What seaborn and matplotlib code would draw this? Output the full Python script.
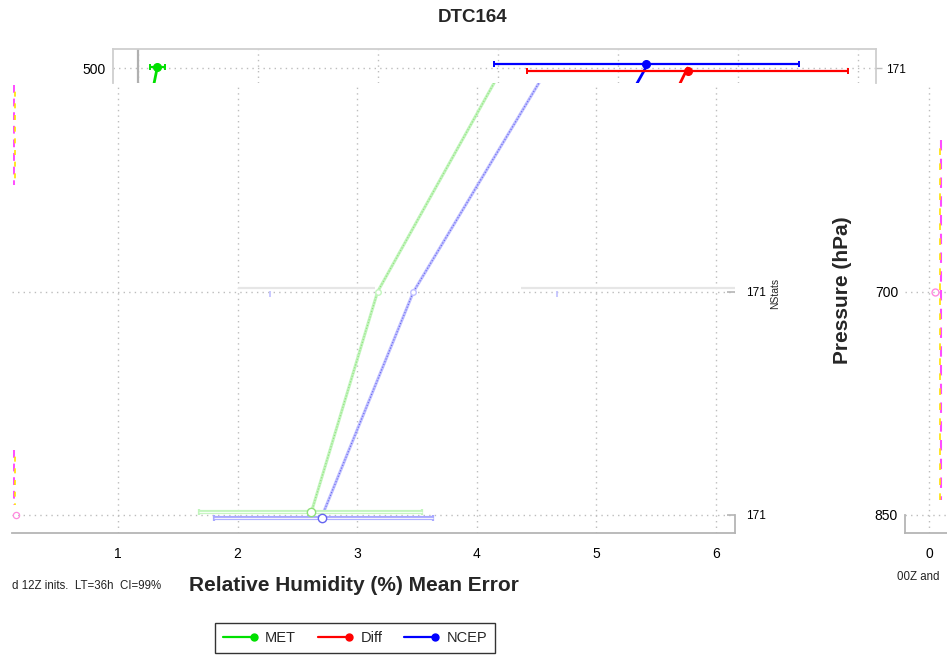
import numpy as np
import pandas as pd
import matplotlib
matplotlib.use("Agg")
import matplotlib.pyplot as plt
import seaborn as sns
from matplotlib.lines import Line2D
from matplotlib.legend_handler import HandlerLine2D

# ---------------------------------------------------------------- data
level_labels = ["850", "700", "500"]          # pressure levels, bottom to top
level_idx = [0, 1, 2]
nstats_labels = ["171", "171", "171"]
x_ticks = [1, 2, 3, 4, 5, 6]
x_tick_labels = ["1", "2", "3", "4", "5", "6"]

# profile of mean error per level
met_mean = [2.61, 3.17, 4.21]
ncep_mean = [2.71, 3.47, 4.59]

# confidence intervals drawn on the profile panel
met_ci_850 = [1.68, 3.54]
ncep_ci_850 = [1.80, 3.63]
ncep_ci_700 = [2.27, 4.67]

# 500 hPa strip: means, intervals and the start of the line toward 700 hPa
strip_models = ["MET", "Diff", "NCEP"]
strip_mean_500 = [1.16, 5.58, 5.23]
strip_lo_500 = [1.10, 4.24, 3.97]
strip_hi_500 = [1.225, 6.92, 6.51]
strip_mean_700 = [0.78, 4.66, 4.19]

# faint reference segments along 700 hPa
ref_seg_start = [2.00, 4.37]
ref_seg_end = [3.15, 6.16]

# edge traces of neighbouring panels
left_trace_x = [0.128, 0.128]
left_trace_top = [1.93, 0.29]
left_trace_bot = [1.48, 0.045]
right_trace_x = [0.10]
right_trace_top = [1.68]
right_trace_bot = [0.067]

colors = {"MET": "#00e000", "Diff": "#ff0000", "NCEP": "#0000ff"}
pale = {"MET": "#c2f5bd", "NCEP": "#c0c0ff"}
inner = {"MET": "#8fe07a", "NCEP": "#6464f0"}

# ---------------------------------------------------------------- style
sns.set_theme(style="white")
plt.rcParams["font.family"] = ["Liberation Sans", "DejaVu Sans"]
plt.rcParams["axes.facecolor"] = "none"

W, H = 947, 656


def rect(l, t, r, b):
    return [l / W, 1 - b / H, (r - l) / W, (b - t) / H]


fig = plt.figure(figsize=(W / 100, H / 100), dpi=100)
fig.patch.set_facecolor("white")

grid_kw = dict(ls=(0, (1, 3)), color="#bdbdbd", lw=1.0)
spine_c = "#b5b5b5"
YLIM = (-0.081, 1.937)

# ---------------------------------------------------------------- main profile panel
ax = fig.add_axes(rect(12, 83, 735, 533))

prof = pd.DataFrame({
    "value": met_mean + ncep_mean,
    "level": level_idx + level_idx,
    "model": ["MET"] * 3 + ["NCEP"] * 3,
})
sns.lineplot(data=prof, x="value", y="level", hue="model", palette=pale,
             sort=False, estimator=None, legend=False, lw=2.2, ax=ax, zorder=2)
sns.lineplot(data=prof, x="value", y="level", hue="model", palette=inner,
             sort=False, estimator=None, legend=False, lw=0.8, ls=":", ax=ax,
             zorder=3)

ax.set_xlim(0.114, 6.159)
ax.set_ylim(*YLIM)
ax.set_xticks(x_ticks)
ax.set_xticklabels(x_tick_labels)
ax.set_yticks(level_idx[:2])
ax.set_ylabel("")
ax.tick_params(axis="x", length=0, pad=10, labelsize=10, colors="black")
ax.grid(True, **grid_kw)
for s in ["left", "top", "right"]:
    ax.spines[s].set_visible(False)
ax.spines["bottom"].set_color(spine_c)
ax.spines["bottom"].set_linewidth(1.3)

# intervals at 850 hPa (dodged), drawn as hollow bars
for model, mean, ci, dy in [("MET", met_mean[0], met_ci_850, 0.0135),
                            ("NCEP", ncep_mean[0], ncep_ci_850, -0.0135)]:
    err = [[mean - ci[0]], [ci[1] - mean]]
    ax.errorbar([mean], [level_idx[0] + dy], xerr=err, fmt="none",
                ecolor=pale[model] if model == "MET" else "#a8a8ff",
                elinewidth=3.0, capsize=2.5, capthick=1.6, zorder=4)
    ax.errorbar([mean], [level_idx[0] + dy], xerr=err, fmt="none",
                ecolor="#f4fff4" if model == "MET" else "#f2f2ff",
                elinewidth=0.9, capsize=0, zorder=5)
    ax.plot([mean], [level_idx[0] + dy], marker="o", ms=6.0, mfc="white",
            mec=inner[model], mew=1.0, ls="none", zorder=6)

# 700 hPa markers and the caps of the NCEP interval
for model, mean in [("MET", met_mean[1]), ("NCEP", ncep_mean[1])]:
    ax.plot([mean], [level_idx[1]], marker="o", ms=4.0, mfc="white",
            mec=pale[model], mew=1.0, ls="none", zorder=6)
ax.errorbar([ncep_mean[1]], [level_idx[1] - 0.01],
            xerr=[[ncep_mean[1] - ncep_ci_700[0]], [ncep_ci_700[1] - ncep_mean[1]]],
            fmt="none", ecolor=pale["NCEP"], elinewidth=0, capsize=2,
            capthick=1.2, zorder=4)
ax.hlines([level_idx[1] + 0.018] * 2, ref_seg_start, ref_seg_end,
          color="#e6e6e6", lw=1.6, zorder=1)

# left edge trace
for x0, y0, y1 in zip(left_trace_x, left_trace_top, left_trace_bot):
    ax.plot([x0, x0], [y0, y1], color="#ff4cff", lw=1.4, ls=(0, (4, 3)),
            zorder=2, clip_on=False)
    ax.plot([x0 + 0.012, x0 + 0.012], [y0, y1], color="#ffe100", lw=1.2,
            ls=(3, (3, 4)), zorder=2, clip_on=False)
ax.plot([0.15], [0], marker="o", ms=4.5, mfc="none", mec="#ff8adf", mew=0.9,
        ls="none")

# NStats axis on the right of the profile panel
axn = ax.twinx()
axn.set_ylim(*YLIM)
axn.set_yticks(level_idx[:2])
axn.set_yticklabels(nstats_labels[:2])
axn.yaxis.set_ticks_position("right")
axn.tick_params(axis="y", direction="in", length=6, width=1.2, pad=8,
                labelsize=8.5, colors="black")
axn.tick_params(axis="y", color=spine_c)
for s in ["left", "top", "bottom"]:
    axn.spines[s].set_visible(False)
axn.spines["right"].set_bounds(YLIM[0], 0)
axn.spines["right"].set_color(spine_c)
axn.spines["right"].set_linewidth(1.3)
axn.set_ylabel("NStats", fontsize=7.5, rotation=90)
axn.yaxis.set_label_coords(1.048, (533 - 293) / 450)
# twinx switches the host's y ticks back on; the profile panel has none
ax.tick_params(axis="y", left=False, right=False, labelleft=False,
               labelright=False)

ax.set_xlabel("Relative Humidity (%) Mean Error", fontsize=15,
              fontweight="bold")
ax.xaxis.set_label_coords((354 - 12) / 723, -0.095)

# ---------------------------------------------------------------- 500 hPa strip
axs = fig.add_axes(rect(113, 49, 876, 83))

strip_lines = pd.DataFrame({
    "value": sum([[a, b] for a, b in zip(strip_mean_500, strip_mean_700)], []),
    "level": [2, 1] * 3,
    "model": sum([[m, m] for m in strip_models], []),
})
sns.lineplot(data=strip_lines, x="value", y="level", hue="model",
             palette=colors, sort=False, estimator=None, legend=False, lw=2.0,
             ax=axs, zorder=2)
for m, mean, lo, hi, dy in zip(strip_models, strip_mean_500, strip_lo_500,
                               strip_hi_500, [0.004, -0.0135, 0.018]):
    axs.errorbar([mean], [2 + dy], xerr=[[mean - lo], [hi - mean]], fmt="o",
                 color=colors[m], ms=5.5, elinewidth=1.6, capsize=2.2,
                 capthick=1.4, zorder=4)

axs.set_xlim(0.792, 7.15)
axs.set_ylim(1.933, 2.085)
axs.set_xlabel("")
axs.set_ylabel("")
axs.set_xticks(range(1, 8))
axs.tick_params(axis="x", bottom=False, labelbottom=False)
axs.set_yticks([level_idx[2]])
axs.set_yticklabels([level_labels[2]])
axs.grid(True, **grid_kw)
axs.spines["bottom"].set_visible(False)
for s in ["left", "top", "right"]:
    axs.spines[s].set_color("#cfcfcf")
    axs.spines[s].set_linewidth(1.3)
axs.axvline(1.0, color="#b0b0b0", lw=1.6, zorder=1)

axs2 = axs.twinx()
axs2.set_ylim(1.933, 2.085)
axs2.set_yticks([level_idx[2]])
axs2.set_yticklabels([nstats_labels[2]])
axs2.yaxis.set_ticks_position("right")
axs2.tick_params(axis="y", length=4, width=1.0, pad=3, labelsize=8.5,
                 colors="black")
axs2.tick_params(axis="y", color="#bdbdbd")
for s in ["left", "top", "bottom", "right"]:
    axs2.spines[s].set_visible(False)
axs.tick_params(axis="y", left=True, length=0, pad=5, labelsize=10,
                colors="black")

# ---------------------------------------------------------------- pressure panel at the right
axp = fig.add_axes(rect(905, 83, 1000, 533))
axp.set_xlim(-0.2, 0.592)
axp.set_ylim(*YLIM)
axp.set_xticks([0])
axp.set_xticklabels(["0"])
axp.set_yticks(level_idx[:2])
axp.set_yticklabels(level_labels[:2])
axp.tick_params(axis="x", length=0, pad=10, labelsize=10, colors="black")
axp.tick_params(axis="y", direction="in", length=4, width=1.2, pad=5,
                labelsize=10, colors="black")
axp.tick_params(axis="y", color=spine_c)
axp.grid(True, **grid_kw)
for s in ["top", "right"]:
    axp.spines[s].set_visible(False)
axp.spines["left"].set_bounds(YLIM[0], 0)
for s in ["left", "bottom"]:
    axp.spines[s].set_color(spine_c)
    axp.spines[s].set_linewidth(1.3)
axp.set_ylabel("Pressure (hPa)", fontsize=15, fontweight="bold")
axp.yaxis.set_label_coords((852 - 905) / 95, (533 - 290) / 450)
for x0, y0, y1 in zip(right_trace_x, right_trace_top, right_trace_bot):
    axp.plot([x0, x0], [y0, y1], color="#ff4cff", lw=1.5, ls=(0, (5, 4)))
    axp.plot([x0 - 0.01, x0 - 0.01], [y0, y1], color="#ffe100", lw=1.2,
             ls=(4, (4, 5)))
axp.plot([0.05], [1], marker="o", ms=5, mfc="none", mec="#ff8adf", mew=1.0,
         ls="none")

# ---------------------------------------------------------------- text
fig.text(473 / W, 1 - 17 / H, "DTC164", ha="center", va="center",
         fontsize=13.5, fontweight="bold")
fig.text(12 / W, 1 - 586 / H, "d 12Z inits.  LT=36h  CI=99%", ha="left",
         va="center", fontsize=8.3, color="#222222")
fig.text(897 / W, 1 - 577 / H, "00Z and", ha="left",
         va="center", fontsize=8.3, color="#222222")


class EndMarkerHandler(HandlerLine2D):
    def create_artists(self, legend, orig_handle, xdescent, ydescent, width,
                       height, fontsize, trans):
        arts = super().create_artists(legend, orig_handle, xdescent, ydescent,
                                      width, height, fontsize, trans)
        for a in arts:
            if a.get_marker() not in (None, "None", ""):
                xd = a.get_xdata()
                a.set_xdata([xd[0], xd[-1]])
                a.set_ydata(a.get_ydata()[:2] if len(a.get_ydata()) >= 2
                            else a.get_ydata())
                a.set_markevery([1])
        return arts


handles = [Line2D([0], [0], color=colors[m], lw=1.6, marker="o", ms=5)
           for m in strip_models]
leg = fig.legend(handles, strip_models, loc="center",
                 bbox_to_anchor=(355 / W, 1 - 638 / H), ncol=3, fontsize=10.5,
                 frameon=True, fancybox=False, edgecolor="black",
                 handlelength=2.1, handletextpad=0.8, columnspacing=1.5,
                 borderpad=0.55, numpoints=1,
                 handler_map={Line2D: EndMarkerHandler()})
leg.get_frame().set_linewidth(1.0)

fig.savefig("out.png", dpi=100)
